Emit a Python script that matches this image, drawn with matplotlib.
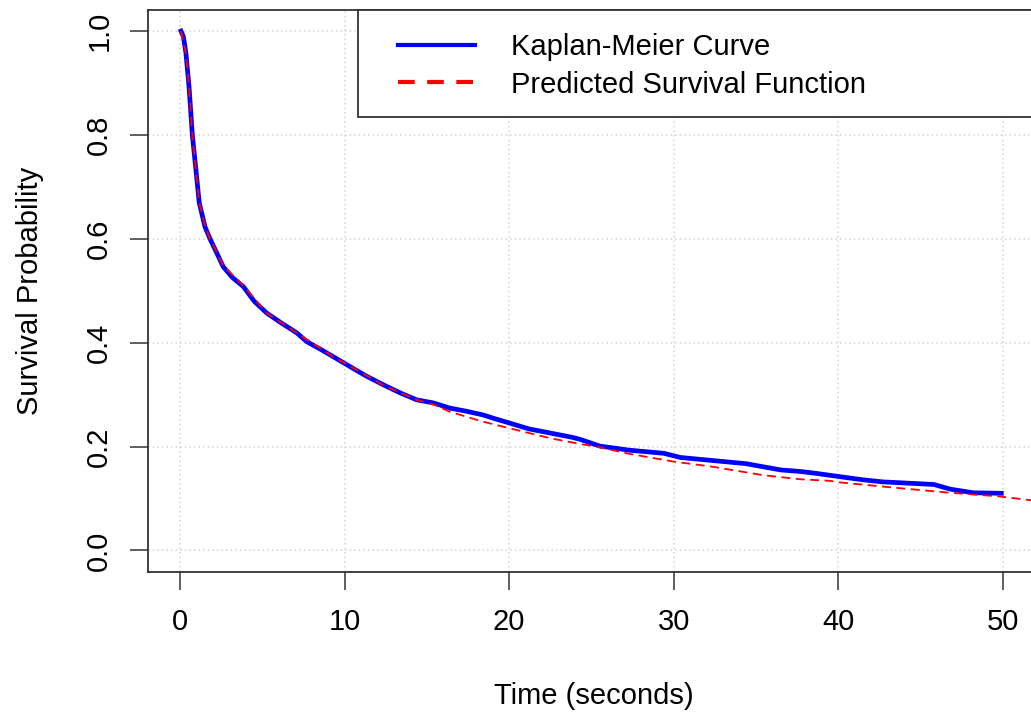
import numpy as np
import matplotlib.pyplot as plt
from matplotlib.lines import Line2D
from matplotlib.patches import Rectangle

# Kaplan-Meier estimate
km_time = [0.06, 0.2, 0.36, 0.55, 0.75, 0.97, 1.17, 1.52, 1.82, 2.2, 2.63,
           3.2, 3.85, 4.5, 5.27, 6.2, 7.09, 7.7, 8.5, 9.31, 10.33, 11.3,
           12.35, 13.4, 14.38, 15.4, 16.4, 17.4, 18.4, 19.2, 20.05, 21.2,
           22.5, 23.8, 24.3, 25.5, 27.3, 29.4, 30.4, 32.4, 34.4, 36.5, 37.7,
           38.5, 40.1, 41.5, 42.7, 45.8, 46.8, 48.2, 49.9]
km_surv = [1.0, 0.99, 0.958, 0.892, 0.80, 0.732, 0.669, 0.623, 0.60, 0.575,
           0.546, 0.525, 0.508, 0.48, 0.457, 0.437, 0.419, 0.402, 0.388,
           0.373, 0.354, 0.336, 0.319, 0.303, 0.290, 0.284, 0.274, 0.268,
           0.261, 0.253, 0.245, 0.234, 0.226, 0.218, 0.214, 0.201, 0.193,
           0.187, 0.179, 0.173, 0.167, 0.155, 0.152, 0.149, 0.142, 0.136,
           0.132, 0.127, 0.118, 0.111, 0.110]

# Predicted survival function
pred_time = [0.06, 0.36, 0.55, 0.75, 0.97, 1.17, 1.52, 1.82, 2.63, 3.85,
             5.27, 7.09, 9.31, 10.33, 12.35, 14.38, 15.5, 16.4, 18.4, 20.05,
             22.5, 24.3, 25.3, 27.3, 30.0, 32.4, 35.4, 37.7, 39.5, 40.1,
             43.7, 46.8, 49.8, 51.6, 53.0]
pred_surv = [1.0, 0.958, 0.89, 0.80, 0.73, 0.67, 0.625, 0.60, 0.548, 0.51,
             0.457, 0.419, 0.373, 0.355, 0.318, 0.29, 0.28, 0.267, 0.248,
             0.235, 0.216, 0.205, 0.200, 0.186, 0.171, 0.161, 0.145, 0.137,
             0.134, 0.131, 0.120, 0.111, 0.104, 0.097, 0.094]

x_ticks = [0, 10, 20, 30, 40, 50]
y_ticks = [0.0, 0.2, 0.4, 0.6, 0.8, 1.0]

plt.rcParams['font.family'] = ['Liberation Sans', 'DejaVu Sans']
fs = 21

W, H = 1031, 715
fig = plt.figure(figsize=(W / 100, H / 100), dpi=100)
ax = fig.add_axes([148 / W, (H - 572) / H, (1040 - 148) / W, (572 - 10) / H])

# grid like R's grid()
for xv in x_ticks:
    ax.axvline(xv, color='lightgray', lw=1.1, ls=(0, (1, 2)), zorder=0)
for yv in y_ticks:
    ax.axhline(yv, color='lightgray', lw=1.1, ls=(0, (1, 2)), zorder=0)

ax.plot(km_time, km_surv, color='blue', lw=3.4)
ax.plot(pred_time, pred_surv, color='red', lw=1.3, ls=(0, (5, 3)))

ax.set_xlim(-1.944, 52.25)
ax.set_ylim(-0.0415, 1.0405)
ax.set_xticks(x_ticks)
ax.set_yticks(y_ticks)
ax.set_yticklabels(['0.0', '0.2', '0.4', '0.6', '0.8', '1.0'], rotation=90, va='center')
ax.tick_params(axis='both', labelsize=fs, length=13, width=1.1, color='#333333')
ax.tick_params(axis='x', pad=13)
ax.tick_params(axis='y', pad=12)
for s in ax.spines.values():
    s.set_linewidth(1.3)
    s.set_color('#333333')

ax.set_xlabel('Time (seconds)', fontsize=fs, labelpad=33)
ax.set_ylabel('Survival Probability', fontsize=fs, labelpad=30)

# legend box (top right, like R's legend())
lx0 = (358 - 148) / (1040 - 148)
ly0 = (572 - 117) / (572 - 10)
ax.add_patch(Rectangle((lx0, ly0), 1 - lx0 + 0.01, 1 - ly0, transform=ax.transAxes,
                       facecolor='white', edgecolor='#333333', lw=1.3, zorder=5,
                       clip_on=False))
handles = [Line2D([], [], color='blue', lw=3.0),
           Line2D([], [], color='red', lw=3.0, ls=(0, (4, 3)))]
leg = ax.legend(handles, ['Kaplan-Meier Curve', 'Predicted Survival Function'],
                loc='upper left', bbox_to_anchor=((398 - 148) / 892, (572 - 33) / 562),
                frameon=False, fontsize=fs, borderpad=0, borderaxespad=0,
                handlelength=2.64, handletextpad=1.23, labelspacing=0.33)
leg.set_zorder(6)

fig.savefig('out.png', dpi=100)
